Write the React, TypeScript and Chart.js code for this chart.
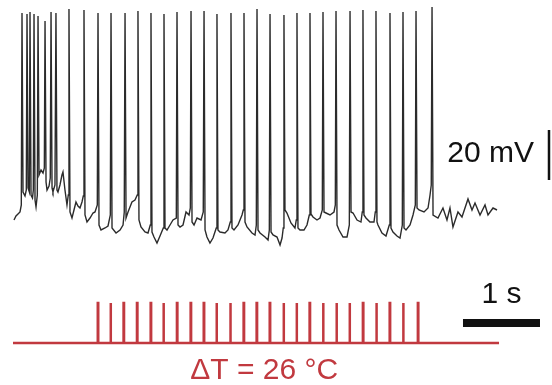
import React, { useEffect, useRef } from "react";
import { Chart, registerables } from "chart.js";

Chart.register(...registerables);

// Membrane potential trace (time in s, voltage in mV), between spikes
const baseTime = [
  0, 0.026, 0.052, 0.078, 0.095, 0.117, 0.143, 0.16, 0.182, 0.199, 0.221, 0.24, 0.251, 0.273, 0.286, 0.303,
  0.325, 0.351, 0.377, 0.394, 0.416, 0.429, 0.455, 0.471, 0.494, 0.506, 0.532, 0.558, 0.571, 0.597, 0.623,
  0.636, 0.662, 0.688, 0.705, 0.727, 0.753, 0.779, 0.805, 0.831, 0.857, 0.883, 0.9, 0.922, 0.948, 0.987,
  1.026, 1.052, 1.082, 1.104, 1.13, 1.182, 1.221, 1.251, 1.273, 1.325, 1.377, 1.416, 1.432, 1.455, 1.481,
  1.532, 1.571, 1.601, 1.623, 1.649, 1.701, 1.74, 1.77, 1.792, 1.818, 1.857, 1.896, 1.939, 1.961, 1.987,
  2.026, 2.065, 2.108, 2.13, 2.156, 2.195, 2.234, 2.273, 2.29, 2.312, 2.338, 2.377, 2.429, 2.458, 2.481,
  2.506, 2.545, 2.584, 2.627, 2.649, 2.675, 2.74, 2.779, 2.809, 2.831, 2.857, 2.909, 2.961, 2.978, 3.0,
  3.026, 3.091, 3.13, 3.147, 3.169, 3.195, 3.26, 3.299, 3.316, 3.338, 3.364, 3.416, 3.455, 3.481, 3.497,
  3.519, 3.545, 3.597, 3.649, 3.666, 3.688, 3.714, 3.766, 3.805, 3.835, 3.857, 3.883, 3.935, 3.974, 4.004,
  4.026, 4.052, 4.104, 4.156, 4.173, 4.195, 4.221, 4.273, 4.325, 4.355, 4.377, 4.403, 4.455, 4.506, 4.523,
  4.545, 4.571, 4.623, 4.675, 4.692, 4.714, 4.727, 4.779, 4.831, 4.874, 4.896, 4.922, 4.974, 5.013, 5.043,
  5.065, 5.091, 5.143, 5.182, 5.212, 5.234, 5.26, 5.325, 5.377, 5.403, 5.419, 5.442, 5.506, 5.571, 5.623,
  5.662, 5.701, 5.766, 5.818, 5.896, 5.948, 5.987, 6.052, 6.117, 6.156, 6.221, 6.273,
];
const baseVolt = [
  -56, -54.4, -53.6, -52.8, -50, -44.8, -46.4, -44, -43.2, -44.8, -46, -47.2, -44, -48, -50.8, -46,
  -38, -36, -37.2, -35.2, -40.8, -44, -42.4, -39.2, -43.2, -44.8, -42, -44, -44.8, -42, -38,
  -36.8, -44, -50, -46, -52.8, -55.2, -52, -48.8, -50.4, -51.2, -48.8, -46.4, -54, -56.8, -55.2,
  -53.2, -52.8, -50, -58, -60, -59.2, -58.4, -54, -59.2, -61.2, -60, -58, -52.8, -55.2, -52.8,
  -48.8, -48, -46, -56, -58.8, -60.8, -61.2, -58, -60.8, -62.8, -65.2, -62.4, -59.2, -59.2, -60,
  -58, -56, -55.2, -58, -58.8, -58, -52.8, -54, -51.2, -56.8, -58, -55.2, -56, -52.8, -60,
  -62.8, -65.2, -63.2, -59.2, -60, -60.8, -61.2, -60, -56.8, -59.2, -60, -58, -54, -52, -56.8,
  -58.8, -61.2, -62, -58, -60, -61.2, -62.8, -64, -60, -60.8, -62, -62.8, -66, -63.2, -59.2,
  -52, -53.2, -57.2, -59.2, -56, -59.2, -60, -60, -58, -54, -53.6, -54.8, -56, -55.2, -52,
  -52.8, -53.2, -54, -52.8, -50, -58, -60, -62.8, -62.8, -58, -52.8, -53.2, -56, -56.8, -52.8,
  -54, -55.2, -56.8, -56.8, -52.8, -56.8, -58, -61.2, -62.4, -58, -59.2, -60.8, -62.4, -63.2, -58,
  -59.2, -60, -58, -54, -50, -51.2, -52, -52.8, -51.2, -46, -42, -54, -55.2, -51.2, -56,
  -51.2, -58.8, -52.8, -54.8, -47.6, -52, -49.2, -54, -50, -54, -51.2, -52,
];

// Action potential peaks
const spikeTimes = [
  0.104, 0.169, 0.208, 0.26, 0.312, 0.403, 0.481, 0.545, 0.714, 0.909, 1.091, 1.26, 1.442, 1.61, 1.779,
  1.948, 2.117, 2.299, 2.468, 2.636, 2.818, 2.987, 3.156, 3.325, 3.506, 3.675, 3.844, 4.013, 4.182, 4.364,
  4.532, 4.701, 4.883, 5.052, 5.221, 5.429,
];
const spikePeaks = [
  26.8, 26.4, 27.2, 26.4, 25.6, 23.6, 27.2, 26.8, 28.4, 28, 26.8, 26.8, 26.8, 27.6, 26.8,
  26.4, 27.2, 27.6, 27.6, 26.4, 26.8, 26.8, 28.4, 26.4, 26, 26.8, 26.8, 27.2, 27.6, 27.6,
  28, 27.6, 26.8, 27.2, 27.6, 29.2,
];

// Temperature pulses (onsets in s), amplitude ΔT in °C
const pulseOnsets = [
  1.088, 1.253, 1.423, 1.597, 1.775, 1.94, 2.116, 2.294, 2.464, 2.629, 2.808, 2.982, 3.151, 3.321, 3.5,
  3.669, 3.839, 4.013, 4.187, 4.357, 4.531, 4.705, 4.879, 5.053, 5.245,
];
const pulseWidth = 0.006;
const deltaT = 26;
const stimStart = -0.013;
const stimEnd = 6.299;

const RED = "#c1393f";
const FONT = "'Liberation Sans', Arial, Helvetica, sans-serif";

export default function App() {
  const ref = useRef<HTMLCanvasElement | null>(null);

  useEffect(() => {
    const canvas = ref.current;
    if (!canvas) return;

    const trace: { x: number; y: number }[] = [];
    baseTime.forEach((t, i) => trace.push({ x: t, y: baseVolt[i] }));
    spikeTimes.forEach((t, i) => trace.push({ x: t, y: spikePeaks[i] }));
    trace.sort((a, b) => a.x - b.x);

    const stim: { x: number; y: number }[] = [{ x: stimStart, y: 0 }];
    pulseOnsets.forEach((t) => {
      stim.push({ x: t, y: 0 }, { x: t, y: deltaT }, { x: t + pulseWidth, y: deltaT }, { x: t + pulseWidth, y: 0 });
    });
    stim.push({ x: stimEnd, y: 0 });

    const scaleBars = {
      id: "scaleBars",
      afterDraw(chart: any) {
        const { ctx, scales } = chart;
        const xs = scales.x;
        const ys = scales.y;
        ctx.save();
        // 20 mV bar
        const vx = xs.getPixelForValue(6.948);
        const vTop = ys.getPixelForValue(-20);
        const vBot = ys.getPixelForValue(-40);
        ctx.fillStyle = "#111";
        ctx.fillRect(vx - 1.25, vTop, 2.5, vBot - vTop);
        ctx.font = `30px ${FONT}`;
        ctx.textAlign = "right";
        ctx.textBaseline = "alphabetic";
        ctx.fillText("20 mV", vx - 15, (vTop + vBot) / 2 + 7);
        // 1 s bar
        const x0 = xs.getPixelForValue(5.831);
        const x1 = xs.getPixelForValue(6.831);
        const by = ys.getPixelForValue(-97.2);
        ctx.fillRect(x0, by - 4, x1 - x0, 8);
        ctx.textAlign = "center";
        ctx.fillText("1 s", (x0 + x1) / 2, by - 20);
        // ΔT label
        const y2 = scales.y2;
        ctx.fillStyle = RED;
        const lx = xs.getPixelForValue(3.25);
        ctx.fillText("ΔT = 26 °C", lx, y2.getPixelForValue(0) + 36);
        ctx.restore();
      },
    };

    const chart = new Chart(canvas, {
      type: "line",
      data: {
        datasets: [
          {
            data: trace,
            borderColor: "#2b2b2b",
            borderWidth: 1.4,
            pointRadius: 0,
            tension: 0,
            yAxisID: "y",
          },
          {
            data: stim,
            borderColor: RED,
            borderWidth: 2.5,
            pointRadius: 0,
            tension: 0,
            yAxisID: "y2",
            borderJoinStyle: "miter",
          },
        ],
      },
      options: {
        animation: false,
        responsive: false,
        maintainAspectRatio: false,
        layout: { padding: 0 },
        plugins: { legend: { display: false }, tooltip: { enabled: false } },
        scales: {
          x: { type: "linear", display: false, min: -0.1818, max: 6.987 },
          y: { type: "linear", display: false, min: -122, max: 32 },
          y2: { type: "linear", display: false, min: -27.3, max: 223 },
        },
      },
      plugins: [scaleBars],
    });

    return () => chart.destroy();
  }, []);

  return (
    <div style={{ position: "absolute", left: 0, top: 0, width: 552, height: 385, background: "#fff" }}>
      <canvas ref={ref} width={552} height={385} />
    </div>
  );
}
